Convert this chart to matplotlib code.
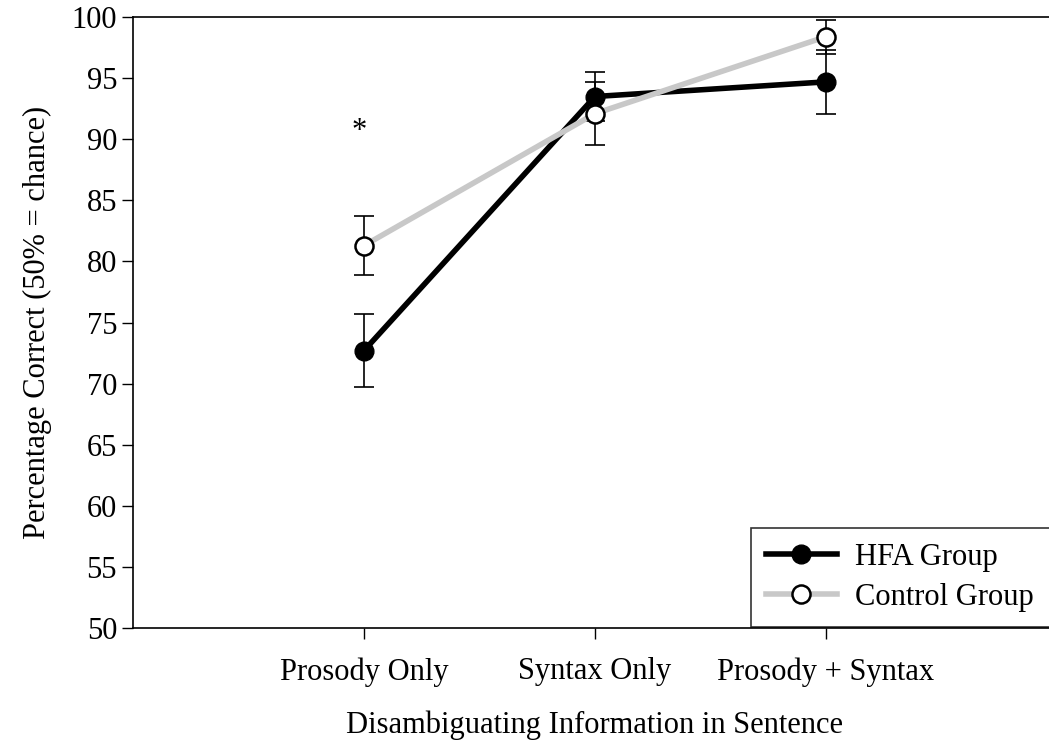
import matplotlib
matplotlib.use("Agg")
import matplotlib.pyplot as plt

# donnees
conditions = ["Prosody Only", "Syntax Only", "Prosody + Syntax"]
hfa_moy = [72.7, 93.5, 94.7]
hfa_err = [3.0, 2.0, 2.6]
ctrl_moy = [81.3, 92.1, 98.4]
ctrl_err = [2.4, 2.6, 1.4]
yticks = [50, 55, 60, 65, 70, 75, 80, 85, 90, 95, 100]

plt.rcParams['font.family'] = ['Liberation Serif', 'DejaVu Serif']

fig = plt.figure(figsize=(10.49, 7.44), dpi=100)
ax = fig.add_axes([0.1268, 0.156, 0.8808, 0.821])

x = [1, 2, 3]

# lignes + barres d'erreur
ax.errorbar(x, ctrl_moy, yerr=ctrl_err, fmt='none', ecolor='black',
            elinewidth=1.2, capsize=7, capthick=1.2, zorder=2)
ax.errorbar(x, hfa_moy, yerr=hfa_err, fmt='none', ecolor='black',
            elinewidth=1.2, capsize=7, capthick=1.2, zorder=2)
ax.plot(x, hfa_moy, color='black', lw=4, marker='o', ms=13.5,
        mfc='black', mec='black', label='HFA Group', zorder=3)
ax.plot(x, ctrl_moy, color='#c8c8c8', lw=4, marker='o', ms=13,
        mfc='white', mec='black', mew=1.8, label='Control Group', zorder=4)

# asterisque de significativite
ax.text(0.98, 90.6, "*", ha='center', va='center', fontsize=22)

ax.set_xlim(0, 4)
ax.set_ylim(50, 100)
ax.set_yticks(yticks)
ax.set_xticks(x)
ax.set_xticklabels(conditions)
ax.tick_params(axis='both', direction='out', length=8, width=1,
               labelsize=22)
ax.tick_params(axis='x', pad=13)
ax.spines['right'].set_visible(False)
for s in ['left', 'bottom', 'top']:
    ax.spines[s].set_linewidth(1.2)

ax.set_xlabel("Disambiguating Information in Sentence", fontsize=22,
              labelpad=17)
ax.set_ylabel("Percentage Correct (50% = chance)", fontsize=22,
              labelpad=14)

# legende qui deborde a droite comme sur l'original
leg = ax.legend(loc='lower left',
                bbox_to_anchor=(751 / 1049, 117 / 744, 0.32, 0.14),
                bbox_transform=fig.transFigure, mode='expand',
                fontsize=22, frameon=True,
                fancybox=False, edgecolor='black', handlelength=2.3,
                handletextpad=0.6, borderpad=0.5, labelspacing=0.35,
                borderaxespad=0)
leg.get_frame().set_linewidth(1.2)

fig.savefig("out.png", dpi=100)
